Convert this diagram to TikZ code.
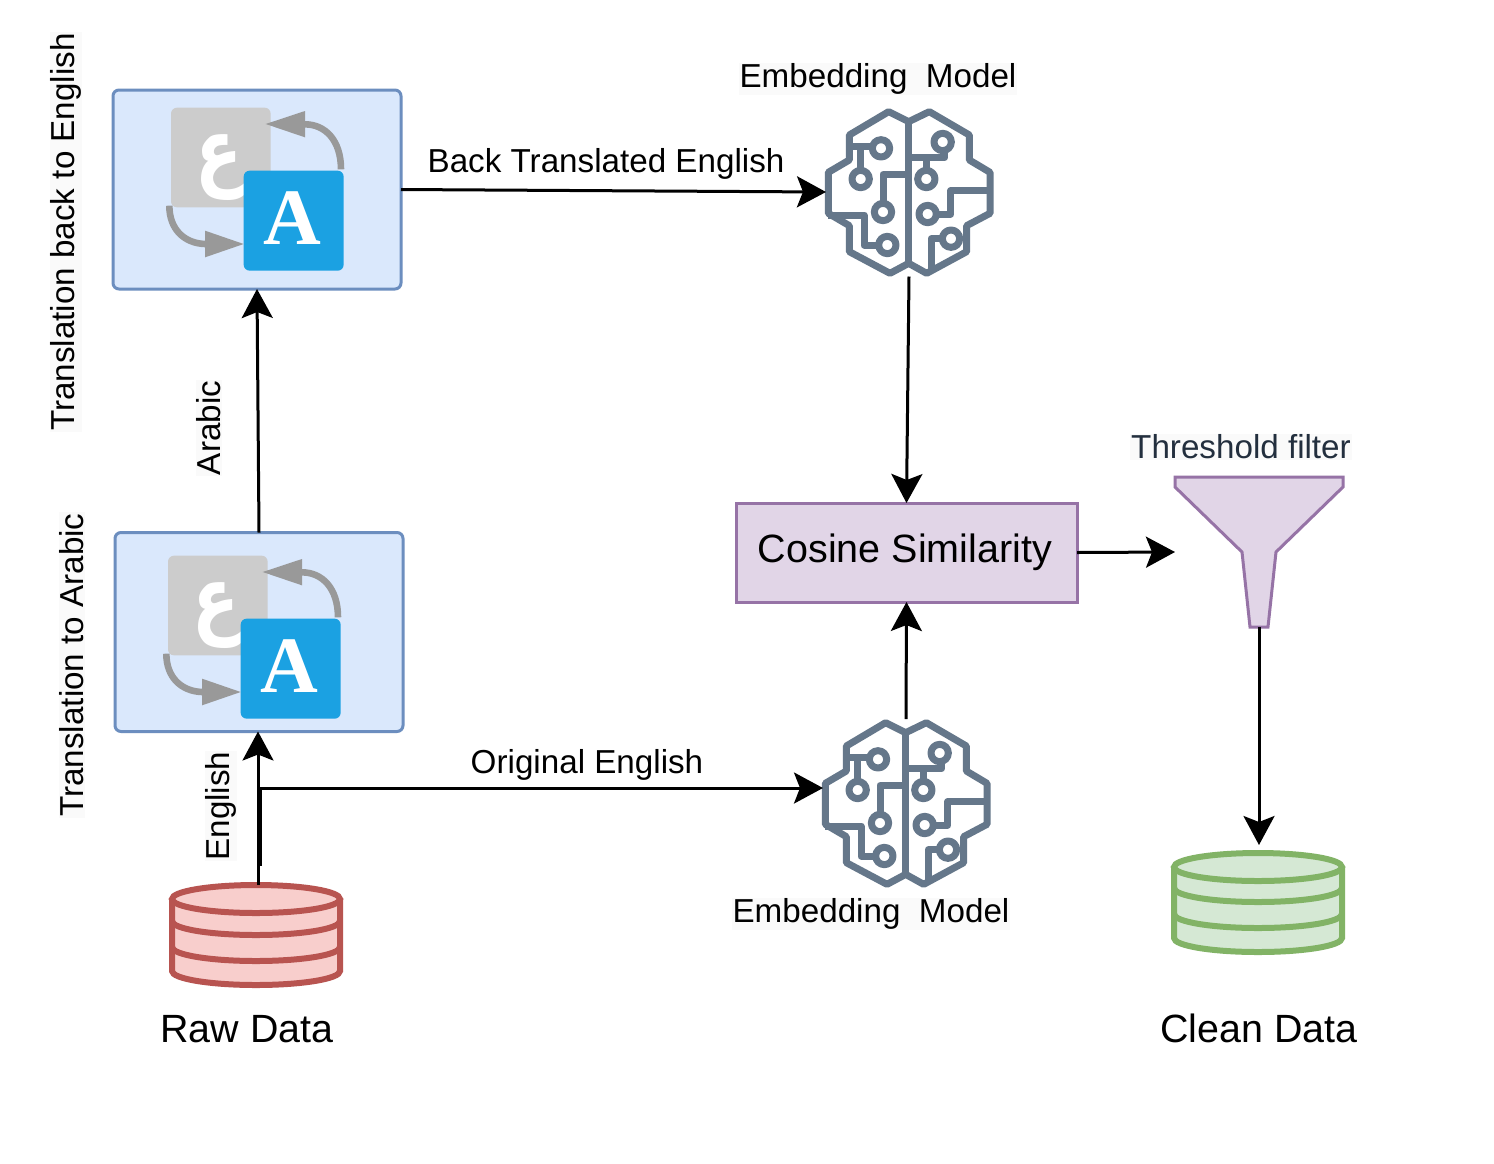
\documentclass[tikz,border=0pt]{standalone}
\usepackage{fontspec}
\setmainfont{Liberation Sans}
\newfontfamily\arabicfont[Script=Arabic]{DejaVu Sans}[BoldFont={DejaVu Sans Bold}]
\newfontfamily\serifbold{Liberation Serif}[BoldFont={Liberation Serif Bold}]
\TeXXeTstate=1
\usetikzlibrary{arrows.meta,calc}
\definecolor{slateb}{HTML}{65778A}
\definecolor{boxfill}{HTML}{DAE8FC}
\definecolor{boxline}{HTML}{6C8EBF}
\definecolor{purfill}{HTML}{E1D5E7}
\definecolor{purline}{HTML}{9673A6}
\definecolor{redfill}{HTML}{F8CECC}
\definecolor{redline}{HTML}{B85450}
\definecolor{grnfill}{HTML}{D5E8D4}
\definecolor{grnline}{HTML}{82B366}
\definecolor{tileblue}{HTML}{1BA1E2}
\definecolor{tilegray}{HTML}{CCCCCC}
\definecolor{arrowgray}{HTML}{999999}
\definecolor{labelbg}{HTML}{FAFAFA}
\definecolor{navytext}{HTML}{232F3E}
\newcommand{\fs}[1]{\fontsize{#1}{#1}\selectfont}
\tikzset{
  x=1pt,y=-1pt,
  arr/.style={draw=black,line width=3pt,-{Stealth[length=29pt,width=31pt,inset=6pt]}},
  txtbox/.style={draw=boxline,fill=boxfill,line width=3pt,rounded corners=6pt,minimum width=288pt,minimum height=199pt,inner sep=0pt,outer sep=0pt},
  ghost/.style={inner sep=0pt,outer sep=0pt},
  lab/.style={inner sep=1pt,font=\fs{33.2}},
  labbg/.style={lab,fill=labelbg},
  brainline/.style={draw=slateb,line width=7pt,line join=round,line cap=butt},
  redcyl/.style={draw=redline,fill=redfill,line width=6pt},
  grncyl/.style={draw=grnline,fill=grnfill,line width=6pt},
  pics/brainicon/.style={code={
    \begin{scope}[x=0.33333pt,y=-0.33333pt]
      \draw[brainline] (296,80) -- (236,50) -- (118,120) -- (118,195) -- (55,232) -- (55,355) -- (118,392) -- (118,470) -- (240,535) -- (296,505) -- (350,535) -- (470,470) -- (470,392) -- (540,355) -- (540,232) -- (478,195) -- (478,120) -- (358,50) -- cycle;
      \draw[brainline] (296,80) -- (296,505);
      \draw[brainline] (118,155) -- (187,155);
      \draw[brainline] (152,155) -- (152,226);
      \draw[brainline] (219,325) -- (219,238) -- (296,238);
      \draw[brainline] (55,360) -- (162,360) -- (162,450) -- (206,450);
      \draw[brainline] (404,167) -- (404,188) -- (296,188);
      \draw[brainline] (349,188) -- (349,226);
      \draw[brainline] (540,287) -- (422,287) -- (422,357) -- (379,357);
      \draw[brainline] (397,431) -- (364,431) -- (364,525);
      \foreach \cx/\cy in {213/160,152/252,219/351,232/450,398/141,349/252,353/357,423/431}
        \draw[brainline] (\cx,\cy) circle[radius=26];
    \end{scope}
  }},
  pics/transicon/.style={code={
    \begin{scope}[x=0.33333pt,y=-0.33333pt]
      \fill[tilegray,rounded corners=6pt] (198,83) rectangle (497,382);
      \node[text=white,inner sep=0pt,xscale=0.84,yscale=1.05,font=\fs{82}\arabicfont\bfseries] (#1ar) at (343,262) {\beginR ع\endR};
      \fill[tileblue,rounded corners=6pt] (416,272) rectangle (716,572);
      \node[text=white,inner sep=0pt,font=\fs{80}\serifbold\bfseries] (#1en) at (561,415) {A};
      \draw[arrowgray,line width=6.6pt] (708,268) .. controls (708,180) and (660,133) .. (600,133);
      \fill[arrowgray] (600,93) -- (482,132) -- (600,172) -- cycle;
      \draw[arrowgray,line width=6.6pt] (193,377) .. controls (193,450) and (240,490) .. (300,492);
      \fill[arrowgray] (300,452) -- (416,492) -- (300,532) -- cycle;
    \end{scope}
  }},
}
\begin{document}
\begin{tikzpicture}
\path[fill=white,use as bounding box] (0,0) rectangle (1494,1163);

% boxes
\node[txtbox] (trB) at (257,189.5) {};
\node[txtbox] (trA) at (259,632) {};
\pic at (105,80) {transicon=b};
\pic at (102,528) {transicon=a};

% invisible frames of the icons
\node[ghost,minimum width=166pt,minimum height=169pt] (brainA) at (909,192) {};
\node[ghost,minimum width=166pt,minimum height=168pt] (brainB) at (906,803) {};
\pic at (810,95) {brainicon};
\pic at (807,706) {brainicon};

% cosine
\node[draw=purline,fill=purfill,line width=3pt,minimum width=341pt,minimum height=99pt,inner sep=0pt,outer sep=0pt,font=\fs{39.5}] (cos) at (906.5,552.5) {\raisebox{1.5pt}{Cosine Similarity}\hspace*{3pt}};

% funnel
\node[ghost,minimum width=168pt,minimum height=150pt] (filter) at (1259,552) {};
\draw[draw=purline,fill=purfill,line width=3pt] (1175,477) -- (1343,477) -- (1343,487) -- (1276,552) -- (1268,627) -- (1250,627) -- (1242,552) -- (1175,487) -- cycle;

% raw cylinder
\node[ghost,minimum width=168pt,minimum height=100pt] (raw) at (256,935) {};
\draw[redcyl] (172,899) -- (172,971) arc[start angle=180,end angle=0,x radius=84,y radius=14] -- (340,899);
\draw[redcyl] (256,899) ellipse[x radius=84,y radius=14];
\draw[redcyl,fill=none] (172,921) arc[start angle=180,end angle=0,x radius=84,y radius=14];
\draw[redcyl,fill=none] (172,947) arc[start angle=180,end angle=0,x radius=84,y radius=14];

% clean cylinder
\node[ghost,minimum width=168pt,minimum height=100pt] (clean) at (1258,903) {};
\draw[grncyl] (1174,867) -- (1174,938) arc[start angle=180,end angle=0,x radius=84,y radius=14] -- (1342,867);
\draw[grncyl] (1258,867) ellipse[x radius=84,y radius=14];
\draw[grncyl,fill=none] (1174,888) arc[start angle=180,end angle=0,x radius=84,y radius=14];
\draw[grncyl,fill=none] (1174,914) arc[start angle=180,end angle=0,x radius=84,y radius=14];

% connectors
\draw[arr] (trB.east) -- (brainA.west);
\draw[arr] (brainA.south) -- (cos.north);
\draw[arr] (brainB.north) -- (cos.south);
\draw[arr] (cos.east) -- (filter.west);
\draw[arr,shorten >=8pt] (filter.south) -- (filter.south |- clean.north);
\draw[arr] (trA.north) -- (trB.south);
\draw[arr] ([xshift=2pt]raw.north) -- ([xshift=-1pt]trA.south);
\draw[arr] ([xshift=4pt,yshift=19pt]raw.north) |- ([yshift=15pt]brainB.west);

% labels
\node[labbg,rotate=90] (lblBack) at (66,232) {Translation back to English};
\node[labbg,rotate=90] (lblTo) at (72,665) {Translation to Arabic};
\node[labbg,rotate=90] (lblAr) at (209,428) {Arabic};
\node[labbg,rotate=90] (lblEn) at (221,806) {English};
\node[lab] (lblBT) at (606,164) {Back Translated English};
\node[lab] (lblOE) at (587,765) {Original English};
\node[labbg] (lblEmbA) at (878,79) {Embedding\ \ Model};
\node[labbg] (lblEmbB) at (871,914) {Embedding\ \ Model};
\node[labbg,text=navytext] (lblTh) at (1241,447) {Threshold filter};
\node[lab,font=\fs{39.4}] (lblRaw) at (247,1029) {Raw Data};
\node[lab,font=\fs{39.4}] (lblClean) at (1259,1028) {Clean Data};
\end{tikzpicture}
\end{document}
